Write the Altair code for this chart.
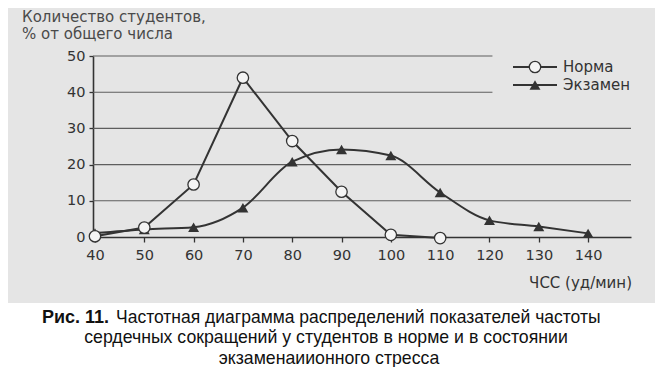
import altair as alt
import pandas as pd

hr = [40, 50, 60, 70, 80, 90, 100, 110, 120, 130, 140]
norma_x = [40, 50, 60, 70, 80, 90, 100, 110]
norma_y = [0.2, 2.6, 14.5, 44, 26.5, 12.5, 0.6, -0.3]
exam_x = hr
exam_y = [1.1, 2.1, 2.7, 8.1, 20.8, 24.2, 22.5, 12.3, 4.6, 2.9, 1.0]
grid_y = [10, 20, 30, 40, 50]
grid_end = [148.7, 148.7, 148.7, 120.6, 120.6]
y_ticks = [0, 10, 20, 30, 40, 50]
series_names = ["Норма", "Экзамен"]

INK = "#333333"
FONT = "DejaVu Sans"
CAPFONT = "Liberation Sans"
XDOM = [39.6, 148.7]

norma = pd.DataFrame({"x": norma_x, "y": norma_y})
exam = pd.DataFrame({"x": exam_x, "y": exam_y})
grid = pd.DataFrame({"y": grid_y, "x": [XDOM[0]] * len(grid_y), "x2": grid_end})
one = pd.DataFrame({"a": [0]})

xs = alt.Scale(domain=XDOM, nice=False, zero=False)
ys = alt.Scale(domain=[0, 50], nice=False)

xaxis = alt.Axis(values=hr, grid=False, domainColor=INK, domainWidth=1.6,
                 tickColor=INK, tickSize=5, tickWidth=1.3, labelFont=FONT, labelFontSize=14.5,
                 labelColor=INK, labelPadding=6, title=None)
yaxis = alt.Axis(values=y_ticks, grid=False, domainColor=INK, domainWidth=1.6,
                 tickColor=INK, tickSize=4, tickWidth=1.3, labelFont=FONT, labelFontSize=14.5,
                 labelColor=INK, labelPadding=4, title=None)

# caption area (white) below the grey scanned figure
capbg = alt.Chart(one).mark_rect(color="white").encode(
    x=alt.value(-85), x2=alt.value(562), y=alt.value(247), y2=alt.value(330)
)

gridlines = alt.Chart(grid).mark_rule(color="#5e5e5e", strokeWidth=1.1).encode(
    x=alt.X("x:Q", scale=xs, axis=xaxis), x2="x2:Q", y=alt.Y("y:Q", scale=ys, axis=yaxis)
)

exam_line = alt.Chart(exam).mark_line(color=INK, strokeWidth=2, interpolate="monotone").encode(
    x=alt.X("x:Q", scale=xs, axis=xaxis), y=alt.Y("y:Q", scale=ys, axis=yaxis)
)
exam_pts = alt.Chart(exam).mark_point(shape="triangle-up", filled=True, color=INK, size=120, opacity=1).encode(
    x=alt.X("x:Q", scale=xs, axis=xaxis), y=alt.Y("y:Q", scale=ys, axis=yaxis)
)
norma_line = alt.Chart(norma).mark_line(color=INK, strokeWidth=2).encode(
    x=alt.X("x:Q", scale=xs, axis=xaxis), y=alt.Y("y:Q", scale=ys, axis=yaxis)
)
norma_pts = alt.Chart(norma).mark_point(shape="circle", filled=True, fill="#f4f4f4", stroke=INK,
                                        strokeWidth=1.3, size=130, opacity=1).encode(
    x=alt.X("x:Q", scale=xs, axis=xaxis), y=alt.Y("y:Q", scale=ys, axis=yaxis)
)

# legend
leg = []
for i, name in enumerate(series_names):
    yy = 11 + 18 * i
    leg.append(alt.Chart(one).mark_rule(color=INK, strokeWidth=2).encode(
        x=alt.value(420), x2=alt.value(464), y=alt.value(yy)))
    if i == 0:
        leg.append(alt.Chart(one).mark_point(shape="circle", filled=True, fill="#f4f4f4", stroke=INK,
                                             strokeWidth=1.3, size=130, opacity=1).encode(
            x=alt.value(442), y=alt.value(yy)))
    else:
        leg.append(alt.Chart(one).mark_point(shape="triangle-up", filled=True, color=INK, size=120,
                                             opacity=1).encode(x=alt.value(442), y=alt.value(yy)))
    leg.append(alt.Chart(one).mark_text(text=name, align="left", baseline="middle", font=FONT,
                                        fontSize=15, color=INK).encode(x=alt.value(470), y=alt.value(yy)))

title1 = alt.Chart(one).mark_text(text="Количество студентов,", align="left", baseline="middle",
                                  font=FONT, fontSize=15, color="#4a4a4a").encode(
    x=alt.value(-71), y=alt.value(-39))
title2 = alt.Chart(one).mark_text(text="% от общего числа", align="left", baseline="middle",
                                  font=FONT, fontSize=15, color="#4a4a4a").encode(
    x=alt.value(-71), y=alt.value(-22))
xtitle = alt.Chart(one).mark_text(text="ЧСС (уд/мин)", align="right", baseline="middle",
                                  font=FONT, fontSize=15, color=INK).encode(
    x=alt.value(539), y=alt.value(227))

cap_bold = alt.Chart(one).mark_text(text="Рис. 11.", align="left", baseline="middle",
                                    font=CAPFONT, fontSize=18, fontWeight="bold", color="#111").encode(
    x=alt.value(-51), y=alt.value(262))
cap1 = alt.Chart(one).mark_text(text="Частотная диаграмма распределений показателей частоты",
                                align="left", baseline="middle", font=CAPFONT, fontSize=17.5,
                                color="#111").encode(x=alt.value(23), y=alt.value(262))
cap2 = alt.Chart(one).mark_text(text="сердечных сокращений у студентов в норме и в состоянии",
                                align="center", baseline="middle", font=CAPFONT, fontSize=17.7,
                                color="#111").encode(x=alt.value(233), y=alt.value(282))
cap3 = alt.Chart(one).mark_text(text="экзаменаиионного стресса",
                                align="center", baseline="middle", font=CAPFONT, fontSize=17.7,
                                color="#111").encode(x=alt.value(236), y=alt.value(303))

chart = alt.layer(
    gridlines, exam_line, norma_line, exam_pts, norma_pts, capbg, *leg,
    title1, title2, xtitle, cap_bold, cap1, cap2, cap3
).properties(
    width=538, height=181,
    autosize=alt.AutoSizeParams(type="none"),
    padding={"left": 85, "top": 48, "right": 24, "bottom": 130},
    background="#e5e5e5",
).configure_view(stroke=None)

chart.save("out.html", embed_options={"renderer": "svg", "actions": False})
